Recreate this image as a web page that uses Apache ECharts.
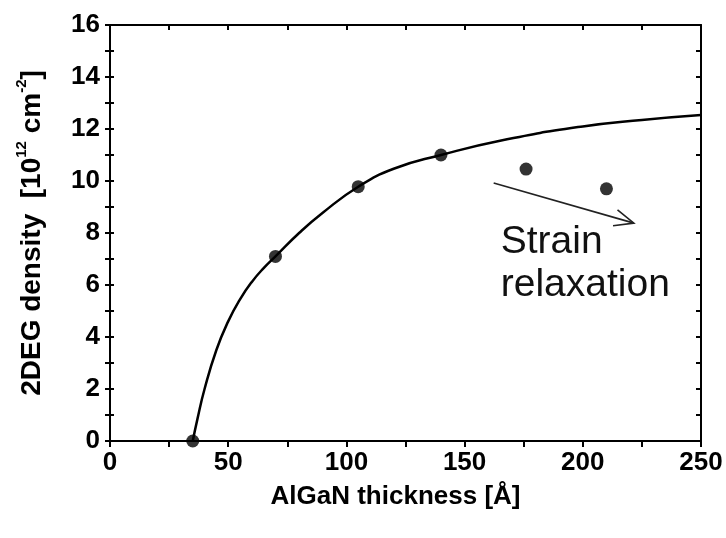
<!DOCTYPE html>
<html>
<head>
<meta charset="utf-8">
<script src="https://cdn.jsdelivr.net/npm/echarts@6/dist/echarts.min.js"></script>
<style>
  html, body { margin: 0; padding: 0; background: #fff; }
  #chart { width: 726px; height: 538px; }
</style>
</head>
<body>
<div id="chart"></div>
<script>
// ---- data ----
var xTicks = [0, 50, 100, 150, 200, 250];
var yTicks = [0, 2, 4, 6, 8, 10, 12, 14, 16];
var pointX = [35, 70, 105, 140, 176, 210];
var pointY = [0, 7.1, 9.78, 11.0, 10.46, 9.7];
var curveX = [35, 37, 40, 45, 50, 55, 60, 65, 70, 80, 90, 105, 120, 140, 165, 200, 225, 250];
var curveY = [0, 0.85, 2.0, 3.5, 4.6, 5.45, 6.12, 6.65, 7.1, 8.0, 8.78, 9.78, 10.47, 11.0, 11.55, 12.1, 12.35, 12.54];
var arrowStart = [162.3, 9.92];
var arrowEnd = [221.6, 8.38];
var noteText = ['Strain', 'relaxation'];
var notePos = [165.3, 6.8];
var xName = 'AlGaN thickness [Å]';

var chart = echarts.init(document.getElementById('chart'), null, { renderer: 'canvas' });

var ink = '#000';
var fam = '"Liberation Sans", Arial, sans-serif';
var labelFont = { fontFamily: fam, fontWeight: 'bold', fontSize: 26, color: ink };

function pairs(xs, ys) { return xs.map(function (x, i) { return [x, ys[i]]; }); }

function axisLine() { return { show: true, onZero: false, lineStyle: { color: ink, width: 2 } }; }
function tick(inside, len) { return { show: true, inside: inside, length: len, lineStyle: { color: ink, width: 2 } }; }
function minor(len) { return { show: true, splitNumber: 2, length: len, lineStyle: { color: ink, width: 2 } }; }

var option = {
  backgroundColor: '#fff',
  animation: false,
  grid: { left: 110, right: 25, top: 25, bottom: 97, containLabel: false },
  xAxis: [
    {
      type: 'value', position: 'bottom', min: xTicks[0], max: xTicks[xTicks.length - 1], interval: 50,
      axisLine: axisLine(), axisTick: tick(false, 6), minorTick: minor(6),
      splitLine: { show: false },
      axisLabel: Object.assign({ margin: 9 }, labelFont),
      name: xName, nameLocation: 'middle', nameGap: 43,
      nameTextStyle: { fontFamily: fam, fontWeight: 'bold', fontSize: 26, color: ink, padding: [0, 20, 0, 0] }
    },
    {
      type: 'value', position: 'top', min: 0, max: 250, interval: 50,
      axisLine: axisLine(), axisTick: tick(true, 5), minorTick: minor(5),
      splitLine: { show: false }, axisLabel: { show: false }
    }
  ],
  yAxis: [
    {
      type: 'value', position: 'left', min: yTicks[0], max: yTicks[yTicks.length - 1], interval: 2,
      axisLine: axisLine(), axisTick: tick(false, 5), minorTick: minor(5),
      splitLine: { show: false },
      axisLabel: Object.assign({ margin: 10 }, labelFont),
      name: '{n|2DEG density  [10}{s|12}{n| cm}{s|-2}{n|]}',
      nameLocation: 'middle', nameGap: 64, nameRotate: 90,
      nameTextStyle: {
        rich: {
          n: { fontFamily: fam, fontWeight: 'bold', fontSize: 28, color: ink, lineHeight: 34, verticalAlign: 'bottom' },
          s: { fontFamily: fam, fontWeight: 'bold', fontSize: 15, color: ink, lineHeight: 34, verticalAlign: 'top', padding: [2, 0, 0, 0] }
        }
      }
    },
    {
      type: 'value', position: 'right', min: 0, max: 16, interval: 2,
      axisLine: axisLine(), axisTick: tick(true, 5), minorTick: minor(5),
      splitLine: { show: false }, axisLabel: { show: false }
    },
    {
      type: 'value', position: 'left', offset: 0, min: 0, max: 16, interval: 2,
      axisLine: { show: false, onZero: false }, axisTick: tick(true, 4), minorTick: minor(4),
      splitLine: { show: false }, axisLabel: { show: false }
    }
  ],
  series: [
    {
      type: 'line', xAxisIndex: 0, yAxisIndex: 0,
      data: pairs(curveX, curveY),
      smooth: 0.5, showSymbol: false, symbol: 'none',
      lineStyle: { color: ink, width: 2.5 }, z: 3
    },
    {
      type: 'scatter', xAxisIndex: 0, yAxisIndex: 0,
      data: pairs(pointX, pointY),
      symbol: 'circle', symbolSize: 13,
      itemStyle: { color: ink }, z: 4
    },
    { type: 'scatter', xAxisIndex: 1, yAxisIndex: 1, data: [[0, 0]], symbolSize: 0, silent: true, itemStyle: { opacity: 0 } },
    { type: 'scatter', xAxisIndex: 0, yAxisIndex: 2, data: [[0, 0]], symbolSize: 0, silent: true, itemStyle: { opacity: 0 } }
  ]
};

chart.setOption(option);

function drawNotes() {
  var s = chart.convertToPixel({ xAxisIndex: 0, yAxisIndex: 0 }, arrowStart);
  var e = chart.convertToPixel({ xAxisIndex: 0, yAxisIndex: 0 }, arrowEnd);
  var ang = Math.atan2(e[1] - s[1], e[0] - s[0]);
  var hl = 21, hw = 0.4;
  var b1 = [e[0] - hl * Math.cos(ang - hw), e[1] - hl * Math.sin(ang - hw)];
  var b2 = [e[0] - hl * Math.cos(ang + hw), e[1] - hl * Math.sin(ang + hw)];
  var t = chart.convertToPixel({ xAxisIndex: 0, yAxisIndex: 0 }, notePos);
  chart.setOption({
    graphic: [
      { type: 'line', shape: { x1: s[0], y1: s[1], x2: e[0], y2: e[1] }, style: { stroke: '#222', lineWidth: 1.6 }, z: 10 },
      { type: 'polyline', shape: { points: [b1, e, b2] }, style: { stroke: '#222', lineWidth: 1.6, fill: null }, z: 10 },
      { type: 'text', x: t[0], y: t[1], style: { text: noteText.join('\n'), font: '39px ' + fam, fill: '#111', lineHeight: 43, align: 'left', verticalAlign: 'middle' }, z: 10 }
    ]
  });
}
drawNotes();
</script>
</body>
</html>
